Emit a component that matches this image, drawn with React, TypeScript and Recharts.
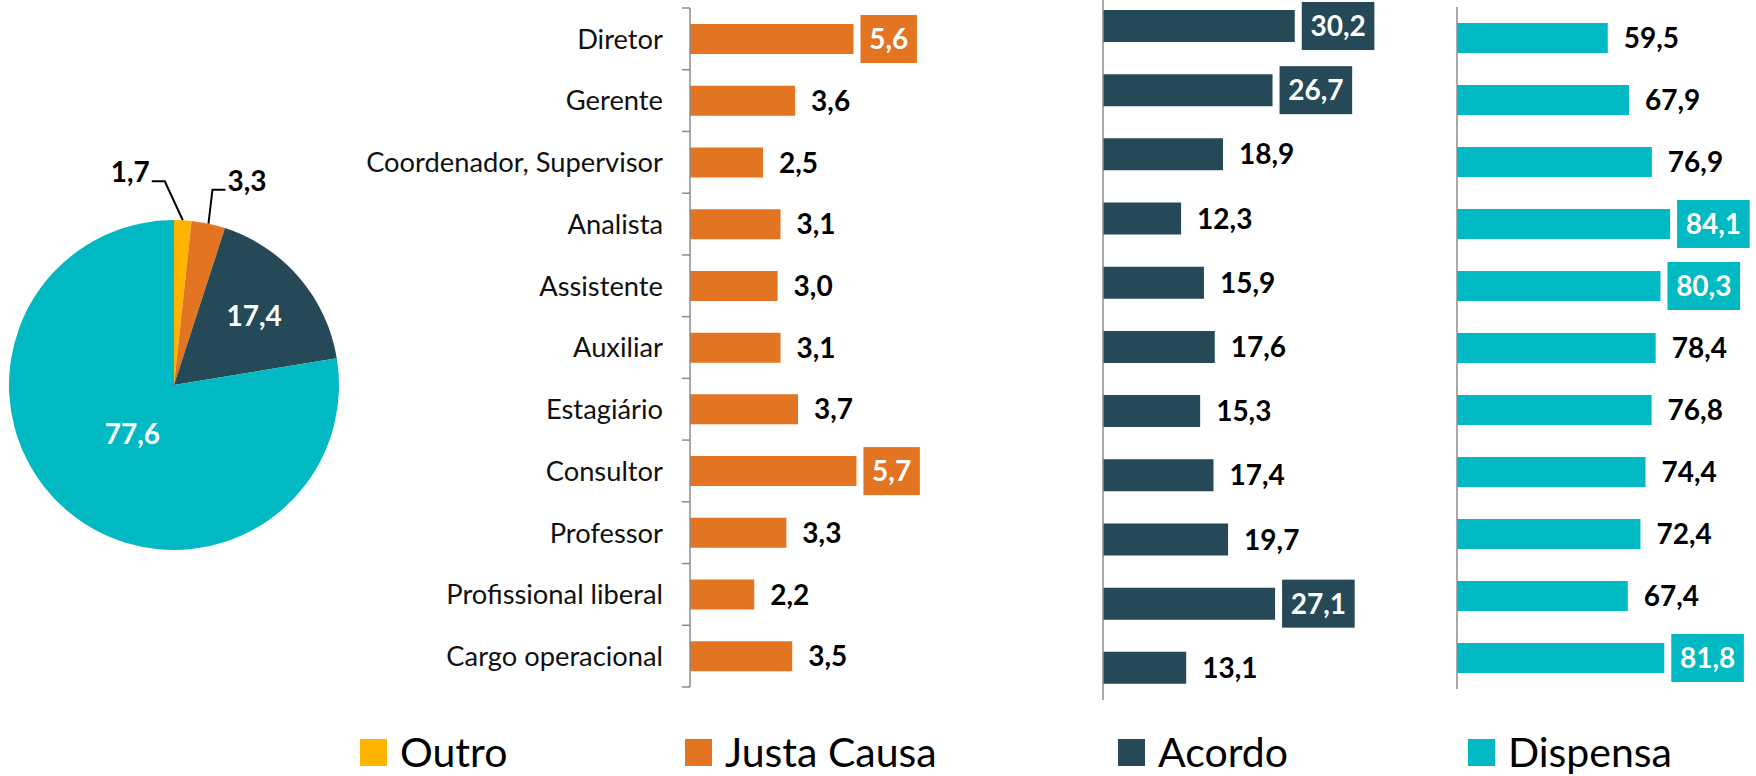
import React from 'react';
import { BarChart, Bar, XAxis, YAxis, LabelList, PieChart, Pie, Cell } from 'recharts';

// data (percent, comma decimals in labels)
const CATEGORIES = [
  'Diretor',
  'Gerente',
  'Coordenador, Supervisor',
  'Analista',
  'Assistente',
  'Auxiliar',
  'Estagiário',
  'Consultor',
  'Professor',
  'Profissional liberal',
  'Cargo operacional',
];
const JUSTA_CAUSA = [5.6, 3.6, 2.5, 3.1, 3.0, 3.1, 3.7, 5.7, 3.3, 2.2, 3.5];
const ACORDO = [30.2, 26.7, 18.9, 12.3, 15.9, 17.6, 15.3, 17.4, 19.7, 27.1, 13.1];
const DISPENSA = [59.5, 67.9, 76.9, 84.1, 80.3, 78.4, 76.8, 74.4, 72.4, 67.4, 81.8];

// rows whose label sits in a coloured box
const JUSTA_CAUSA_TOP = [0, 7];
const ACORDO_TOP = [0, 1, 9];
const DISPENSA_TOP = [3, 4, 10];

const TOTAL_NAMES = ['Outro', 'Justa Causa', 'Acordo', 'Dispensa'];
const TOTAL_VALUES = [1.7, 3.3, 17.4, 77.6];

const YELLOW = '#FFB400';
const ORANGE = '#E37421';
const SLATE = '#254957';
const TEAL = '#00B9C2';
const COLORS = [YELLOW, ORANGE, SLATE, TEAL];

const FONT = 'Lato, "Open Sans", sans-serif';
const AXIS_GREY = '#8c8c8c';
const VALUE_SIZE = 28;
const RADIAN = Math.PI / 180;

const fmt = (v: number) => v.toFixed(1).replace('.', ',');
const textWidth = (s: string) => s.split('').reduce((w, c) => w + (c === ',' ? 7 : 16.2), 0);

const rows = (values: number[]) => CATEGORIES.map((name, i) => ({ name, value: values[i] }));

function makeValueLabel(color: string, boxed: number[]) {
  return (props: any) => {
    const vb = props.viewBox || props;
    const x = vb.x ?? props.x;
    const y = vb.y ?? props.y;
    const width = vb.width ?? props.width;
    const height = vb.height ?? props.height;
    const text = fmt(Number(props.value));
    const cy = y + height / 2;
    const end = x + width;
    if (boxed.includes(props.index)) {
      const w = textWidth(text) + 17;
      return (
        <g>
          <rect x={end + 7} y={cy - 24} width={w} height={48} fill={color} />
          <text x={end + 7 + w / 2} y={cy} dy="0.36em" textAnchor="middle" fill="#fff"
            fontFamily={FONT} fontWeight={700} fontSize={VALUE_SIZE}>
            {text}
          </text>
        </g>
      );
    }
    return (
      <text x={end + 16} y={cy} dy="0.36em" fill="#000" fontFamily={FONT} fontWeight={700} fontSize={VALUE_SIZE}>
        {text}
      </text>
    );
  };
}

const JC_PLOT_H = 679;

function CategoryTick(props: any) {
  const { x, y, payload, index } = props;
  const band = JC_PLOT_H / CATEGORIES.length;
  return (
    <g>
      <line x1={x - 8} x2={x} y1={y - band / 2} y2={y - band / 2} stroke={AXIS_GREY} strokeWidth={1.5} />
      {index === CATEGORIES.length - 1 && (
        <line x1={x - 8} x2={x} y1={y + band / 2} y2={y + band / 2} stroke={AXIS_GREY} strokeWidth={1.5} />
      )}
      <text x={x - 27} y={y} dy="0.36em" textAnchor="end" fill="#111" fontFamily={FONT} fontSize={27.3}>
        {payload.value}
      </text>
    </g>
  );
}

// leader lines for the two thin slices
const LEADERS: Record<number, { dx: number; dy: number; dir: number }> = {
  0: { dx: -18, dy: -39, dir: -1 },
  1: { dx: 4, dy: -34, dir: 1 },
};
const INSIDE_R: Record<number, number> = { 2: 0.64, 3: 0.39 };

function PieLabel(props: any) {
  const { cx, cy, midAngle, outerRadius, index, value } = props;
  const cos = Math.cos(-midAngle * RADIAN);
  const sin = Math.sin(-midAngle * RADIAN);
  const text = fmt(Number(value));
  const lead = LEADERS[index];
  if (lead) {
    const sx = cx + outerRadius * cos;
    const sy = cy + outerRadius * sin;
    const ex = sx + lead.dx;
    const ey = sy + lead.dy;
    return (
      <g>
        <path d={`M${sx},${sy}L${ex},${ey}L${ex + lead.dir * 13},${ey}`} stroke="#000" strokeWidth={2} fill="none" />
        <text x={ex + lead.dir * 15} y={ey - 9} dy="0.36em" textAnchor={lead.dir < 0 ? 'end' : 'start'}
          fill="#000" fontFamily={FONT} fontWeight={700} fontSize={VALUE_SIZE}>
          {text}
        </text>
      </g>
    );
  }
  const r = outerRadius * (INSIDE_R[index] ?? 0.5);
  return (
    <text x={cx + r * cos} y={cy + r * sin} dy="0.36em" textAnchor="middle" fill="#fff"
      fontFamily={FONT} fontWeight={700} fontSize={VALUE_SIZE}>
      {text}
    </text>
  );
}

const LEGEND_X = [360, 685, 1118, 1468];

export default function App() {
  const pieData = TOTAL_NAMES.map((name, i) => ({ name, value: TOTAL_VALUES[i] }));

  return (
    <div style={{ position: 'absolute', left: 0, top: 0, width: 1756, height: 776, background: '#fff', overflow: 'hidden' }}>
      {/* total pie */}
      <div style={{ position: 'absolute', left: 0, top: 0 }}>
        <PieChart width={360} height={570} margin={{ top: 0, right: 0, bottom: 0, left: 0 }}>
          <Pie data={pieData} dataKey="value" cx={174} cy={385} outerRadius={165}
            startAngle={90} endAngle={-270} stroke="none" labelLine={false}
            label={PieLabel} isAnimationActive={false}>
            {pieData.map((d, i) => <Cell key={d.name} fill={COLORS[i]} />)}
          </Pie>
        </PieChart>
      </div>

      {/* Justa Causa */}
      <div style={{ position: 'absolute', left: 340, top: 0 }}>
        <BarChart layout="vertical" width={642} height={700} data={rows(JUSTA_CAUSA)}
          margin={{ top: 8, right: 0, bottom: 13, left: 0 }}>
          <XAxis type="number" hide domain={[0, 10]} />
          <YAxis type="category" dataKey="name" width={350} tickLine={false} tickSize={0} tickMargin={0}
            axisLine={{ stroke: AXIS_GREY, strokeWidth: 1.5 }} tick={<CategoryTick />} interval={0} />
          <Bar dataKey="value" fill={ORANGE} barSize={30} isAnimationActive={false}>
            <LabelList dataKey="value" content={makeValueLabel(ORANGE, JUSTA_CAUSA_TOP)} />
          </Bar>
        </BarChart>
      </div>

      {/* Acordo */}
      <div style={{ position: 'absolute', left: 1090, top: -6 }}>
        <BarChart layout="vertical" width={327} height={706} data={rows(ACORDO)}
          margin={{ top: 0, right: 60, bottom: 0, left: 0 }}>
          <XAxis type="number" hide domain={[0, 40]} />
          <YAxis type="category" dataKey="name" width={13} tick={false} tickLine={false}
            axisLine={{ stroke: AXIS_GREY, strokeWidth: 1.5 }} />
          <Bar dataKey="value" fill={SLATE} barSize={32} isAnimationActive={false}>
            <LabelList dataKey="value" content={makeValueLabel(SLATE, ACORDO_TOP)} />
          </Bar>
        </BarChart>
      </div>

      {/* Dispensa */}
      <div style={{ position: 'absolute', left: 1440, top: 0 }}>
        <BarChart layout="vertical" width={316} height={696} data={rows(DISPENSA)}
          margin={{ top: 7, right: 0, bottom: 7, left: 0 }}>
          <XAxis type="number" hide domain={[0, 118]} />
          <YAxis type="category" dataKey="name" width={17} tick={false} tickLine={false}
            axisLine={{ stroke: AXIS_GREY, strokeWidth: 1.5 }} />
          <Bar dataKey="value" fill={TEAL} barSize={30} isAnimationActive={false}>
            <LabelList dataKey="value" content={makeValueLabel(TEAL, DISPENSA_TOP)} />
          </Bar>
        </BarChart>
      </div>

      {/* legend */}
      {TOTAL_NAMES.map((name, i) => (
        <div key={name} style={{ position: 'absolute', left: LEGEND_X[i], top: 732, height: 40, display: 'flex', alignItems: 'center' }}>
          <span style={{ display: 'inline-block', width: 27, height: 27, background: COLORS[i], marginTop: 1 }} />
          <span style={{ marginLeft: 13, fontFamily: FONT, fontSize: 41, color: '#000', lineHeight: '40px' }}>{name}</span>
        </div>
      ))}
    </div>
  );
}
